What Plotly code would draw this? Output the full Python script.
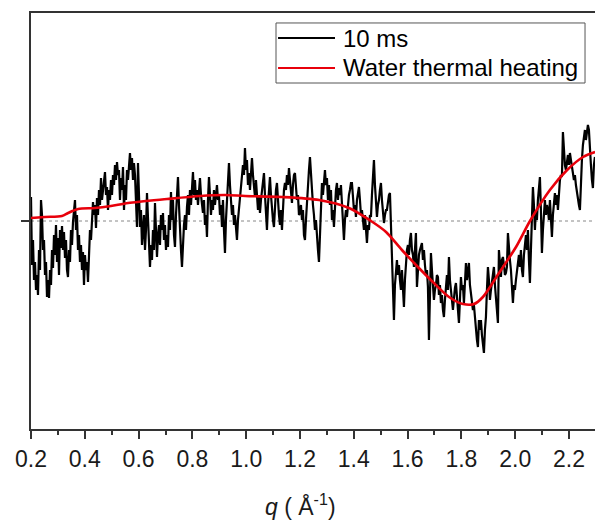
import numpy as np
import plotly.graph_objects as go

# ---------------- data ----------------
# measured difference signal (10 ms), arbitrary units, sampled on a uniform q grid
Q_START = 0.2
Q_STEP = 0.003717
signal_10ms = [
    24, -44, -19, -59, -41, -69, -54, -74, -29, -49, 21, 6, -29, -19, -54, -41, -76, -59, -77, -49,
    -64, -29, -47, -14, -34, -4, -41, -17, -54, -9, -27, -5, -29, -11, -37, -19, -49, -56, -29, -41,
    -9, -24, -1, 13, 21, -9, 6, -29, -14, -41, -24, -49, -31, -64, -34, -49, -41, -61, -27, -9,
    -19, 9, 19, 6, 16, -7, 23, 6, 31, 16, 43, 21, 33, 46, 49, 26, 34, 11, 31, 21,
    41, 26, 46, 36, 56, 41, 59, 46, 51, 21, 43, 31, 54, 11, 36, 21, 51, 41, 61, 68,
    51, 63, 41, 58, 46, 21, -6, 58, 31, -6, 11, -24, -9, 6, -29, -9, 28, 6, -19, -46,
    -24, -39, -9, -29, 18, -4, -36, -14, -4, -24, 6, -9, 8, -19, -4, -29, -14, -26, 6, -9,
    29, 1, 21, -14, -26, 6, 21, 44, 16, -14, -29, -46, -19, -4, 6, -9, 14, 26, 6, 31,
    16, 41, 49, 26, 41, 21, 31, 16, 36, 43, 26, 16, 8, 21, -4, 6, -16, 21, 44, 26,
    6, 21, 11, 31, 16, 26, 36, 21, 26, 6, 16, -6, 21, -9, -32, 1, 26, 46, 58, 36,
    21, 6, 16, -4, 6, -14, -19, 1, 11, 21, 36, 43, 56, 46, 73, 51, 61, 36, 48, 31,
    56, 63, 46, 31, 24, 41, 21, 11, 26, 8, 21, 31, 41, 48, 26, 11, -9, 16, 31, 44,
    26, 11, 1, -6, 21, 31, 38, 16, 6, -4, 11, -9, 21, 31, 38, 31, 46, 36, 53, 41,
    26, 18, 36, 46, 48, 31, 21, 26, 6, 8, 16, 1, 11, -14, -19, 1, 21, 36, 51, 64,
    46, 31, 16, 6, -9, 1, -19, -29, -41, -9, 16, 38, 26, 46, 51, 36, 43, 21, 36, 16,
    31, 1, 11, -6, 16, 31, 38, 21, 33, 26, 36, 21, 6, -19, 1, 11, 4, 21, 26, 31,
    38, 38, 21, 11, 16, 4, 21, 31, 34, 21, 6, 11, -4, -9, 6, -14, -22, -4, -9, 6,
    4, 26, 46, 61, 36, 21, 4, 16, 21, 31, 38, 21, 6, -2, 6, 11, 11, 21, 26, 28,
    -9, -36, -69, -99, -64, -49, -39, -54, -44, -59, -69, -49, -64, -86, -59, -39, -29, -24, -34, -19,
    -12, -29, -34, -46, -24, -12, -66, -49, -34, -29, -24, -22, -39, -29, -44, -54, -49, -66, -119, -69,
    -32, -49, -64, -79, -69, -64, -54, -56, -74, -64, -82, -74, -89, -96, -79, -64, -54, -69, -36, -59,
    -74, -79, -89, -74, -67, -62, -79, -89, -102, -79, -56, -69, -64, -82, -59, -42, -59, -49, -42, -64,
    -74, -79, -89, -84, -99, -106, -119, -126, -99, -109, -99, -114, -124, -132, -109, -96, -69, -46, -59, -79,
    -69, -59, -54, -46, -64, -79, -89, -102, -29, -44, -56, -39, -36, -44, -54, -52, -46, -12, -29, -39,
    -49, -62, -82, -64, -69, -59, -52, -44, -34, -46, -29, -49, -56, -34, -24, -14, -29, -9, -39, -62,
    -29, 6, 34, 16, -9, 11, 1, 21, 36, 44, 11, -32, -9, 11, 21, 6, 16, 11, 1, 21,
    6, -16, 6, 21, 28, 16, 26, 11, 31, 41, 46, 44, 89, 71, 56, 51, 58, 66, 56, 68,
    61, 51, 48, 41, 46, 36, 28, 21, 16, 11, 41, 61, 76, 86, 91, 81, 89, 96, 91, 78,
    56, 41, 33, 56, 64,
]
q_10ms = np.round(Q_START + Q_STEP * np.arange(len(signal_10ms)), 5)

# water thermal heating fit
q_heat = [0.200, 0.252, 0.315, 0.338, 0.375, 0.438, 0.497, 0.561, 0.706, 0.828,
          0.921, 0.996, 1.133, 1.271, 1.382, 1.464, 1.520, 1.579, 1.642, 1.694,
          1.754, 1.806, 1.847, 1.880, 1.940, 2.003, 2.055, 2.129, 2.193, 2.252, 2.297]
signal_heat = [3, 4, 5, 8, 12, 13, 15, 18, 22, 25,
               26, 25, 24, 21, 13, 0, -11, -29, -47, -61,
               -76, -83, -83, -76, -52, -26, 0, 31, 51, 64, 69]

x_ticks = [0.2, 0.4, 0.6, 0.8, 1.0, 1.2, 1.4, 1.6, 1.8, 2.0, 2.2]
x_tick_labels = ["0.2", "0.4", "0.6", "0.8", "1.0", "1.2", "1.4", "1.6", "1.8", "2.0", "2.2"]
legend_names = ["10 ms", "Water thermal heating"]
x_title = "<i>q</i> ( Å<sup>-1</sup>)"

# ---------------- figure ----------------
FONT = "Liberation Sans, Arial, sans-serif"
fig = go.Figure()

fig.add_trace(go.Scatter(x=q_10ms, y=signal_10ms, mode="lines",
                         line=dict(color="black", width=2.2), name=legend_names[0],
                         showlegend=False))
fig.add_trace(go.Scatter(x=q_heat, y=signal_heat, mode="lines",
                         line=dict(color="#e8000b", width=2.6, shape="spline", smoothing=0.8),
                         name=legend_names[1], showlegend=False))

# dotted zero line
fig.add_shape(type="line", xref="paper", yref="y", x0=0, x1=1, y0=0, y1=0,
              line=dict(color="#888888", width=1, dash="dot"), layer="below")

# manual legend (long line samples as in the reference)
fig.add_shape(type="rect", xref="paper", yref="paper", x0=0.4344, x1=0.9823, y0=0.8317, y1=0.976,
              line=dict(color="#555555", width=1), fillcolor="white", layer="above")
fig.add_shape(type="line", xref="paper", yref="paper", x0=0.438, x1=0.539, y0=0.9399, y1=0.9399,
              line=dict(color="black", width=2))
fig.add_shape(type="line", xref="paper", yref="paper", x0=0.438, x1=0.539, y0=0.8678, y1=0.8678,
              line=dict(color="#e8000b", width=2))
fig.add_annotation(xref="paper", yref="paper", x=0.549, y=0.9399, text=legend_names[0],
                   showarrow=False, xanchor="left", yanchor="middle",
                   font=dict(family=FONT, size=24, color="black"))
fig.add_annotation(xref="paper", yref="paper", x=0.549, y=0.8678, text=legend_names[1],
                   showarrow=False, xanchor="left", yanchor="middle",
                   font=dict(family=FONT, size=24, color="black"))

# x-axis title (placed as in the reference, slightly left of the plot centre)
fig.add_annotation(xref="paper", yref="paper", x=0.477, y=-0.183, text=x_title,
                   showarrow=False, xanchor="center", yanchor="middle",
                   font=dict(family=FONT, size=23, color="#1a1a1a"))

fig.update_layout(
    width=595, height=520,
    margin=dict(l=31, r=0, t=13, b=91),
    paper_bgcolor="white", plot_bgcolor="white",
    font=dict(family=FONT, size=23, color="#1a1a1a"),
    xaxis=dict(range=[0.2, 2.2967], tickvals=x_ticks, ticktext=x_tick_labels,
               ticks="outside", ticklen=8, tickwidth=1.5, tickcolor="#333333",
               minor=dict(ticks="outside", ticklen=4, tickwidth=1.5, tickcolor="#333333", dtick=0.1),
               showline=True, linecolor="#333333", linewidth=2, mirror=True,
               showgrid=False, zeroline=False,
               tickfont=dict(family=FONT, size=23, color="#1a1a1a")),
    yaxis=dict(range=[-208, 208], tickvals=[0], showticklabels=False,
               ticks="outside", ticklen=8, tickwidth=1.5, tickcolor="#333333",
               showline=True, linecolor="#333333", linewidth=2, mirror=False,
               showgrid=False, zeroline=False),
)

fig.write_html("out.html")
